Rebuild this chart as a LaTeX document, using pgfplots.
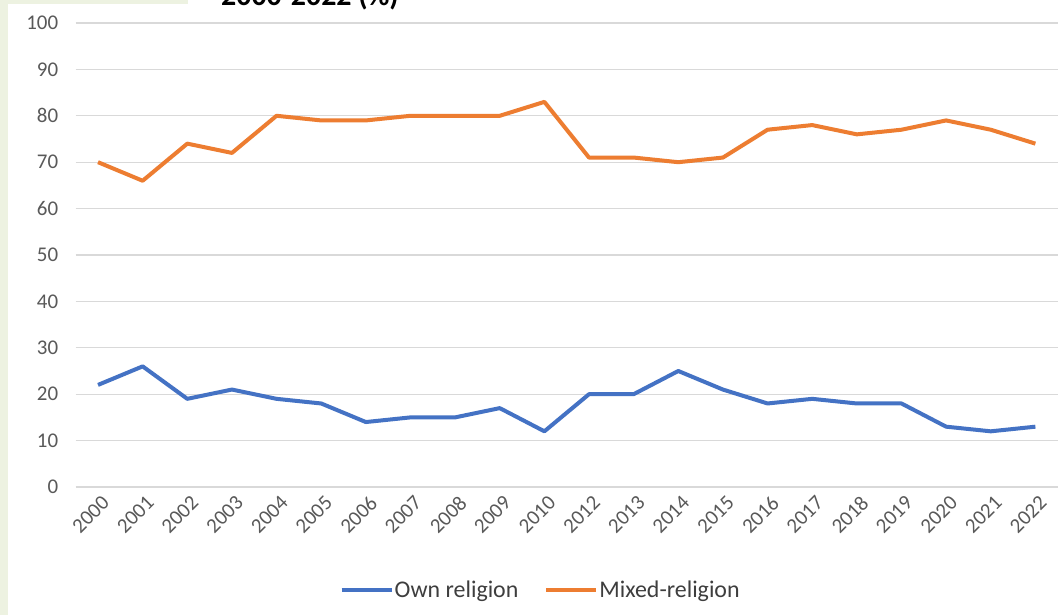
\documentclass[border=0pt]{standalone}
\usepackage{pgfplots}
\pgfplotsset{compat=1.18}
\usepackage{fontspec}
\setmainfont{Carlito}
\definecolor{ownblue}{HTML}{4472C4}
\definecolor{mixorange}{HTML}{ED7D31}
\definecolor{gridgray}{HTML}{D9D9D9}
\definecolor{labgray}{HTML}{595959}
\definecolor{sidegreen}{HTML}{EDF2E1}

\begin{document}
\begin{tikzpicture}
\fill[white] (0bp,0bp) rectangle (1059bp,615bp);
\fill[sidegreen] (0bp,0bp) rectangle (8bp,615bp);
\fill[sidegreen] (0bp,611bp) rectangle (188bp,615bp);
\node[anchor=base west, inner sep=0pt, font=\fontsize{30}{32}\selectfont\bfseries] at (221bp,609bp) {2000-2022 (\%)};
\begin{axis}[
    at={(75.7bp,128bp)}, anchor=south west,
    scale only axis, width=982bp, height=464bp,
    xmin=-0.5, xmax=21.5, ymin=0, ymax=100,
    ytick={0,10,...,100},
    xtick={0,...,21},
    xticklabels={2000,2001,2002,2003,2004,2005,2006,2007,2008,2009,2010,
                 2012,2013,2014,2015,2016,2017,2018,2019,2020,2021,2022},
    /pgf/number format/assume math mode=true,
    axis line style={draw=none},
    tick style={draw=none},
    ymajorgrids,
    grid style={gridgray, line width=1.3bp},
    tick label style={font=\fontsize{21}{23}\selectfont, text=labgray},
    yticklabel style={xshift=-14bp},
    xticklabel style={rotate=45, anchor=north east, yshift=-4bp},
    legend columns=2,
    legend style={at={(0.473,-0.222)}, anchor=center, draw=none, fill=none,
        font=\fontsize{24}{26}\selectfont, text=labgray!70!black,
        nodes={inner xsep=1bp},
        /tikz/every even column/.append style={column sep=25bp}},
    legend image code/.code={\draw[#1] (0bp,0bp) -- (50bp,0bp);},
  ]
  \addplot[ownblue, line width=4bp, line join=round] coordinates {
    (0,22) (1,26) (2,19) (3,21) (4,19) (5,18) (6,14) (7,15) (8,15) (9,17) (10,12)
    (11,20) (12,20) (13,25) (14,21) (15,18) (16,19) (17,18) (18,18) (19,13) (20,12) (21,13)};
  \addplot[mixorange, line width=4bp, line join=round] coordinates {
    (0,70) (1,66) (2,74) (3,72) (4,80) (5,79) (6,79) (7,80) (8,80) (9,80) (10,83)
    (11,71) (12,71) (13,70) (14,71) (15,77) (16,78) (17,76) (18,77) (19,79) (20,77) (21,74)};
  \legend{Own religion, Mixed-religion}
\end{axis}
\pgfresetboundingbox
\useasboundingbox (0bp,0bp) rectangle (1059bp,615bp);
\end{tikzpicture}
\end{document}
